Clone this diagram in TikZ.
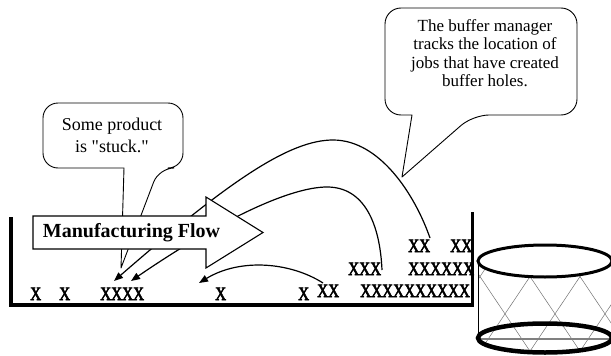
\documentclass[tikz,border=0pt]{standalone}
\usepackage{fontspec}
\setmainfont{Liberation Serif}
\newfontfamily\jobfont[FakeStretch=0.8,FakeBold=3]{Liberation Serif}
\newcommand\straightquote{{\XeTeXglyph\XeTeXcharglyph"22\relax}}
\usetikzlibrary{arrows.meta}
\begin{document}
\begin{tikzpicture}[x=1pt,y=-1pt,
  callout/.style={draw=black,line width=0.9pt,fill=white,line join=round},
  job/.style={font=\jobfont\fontsize{19}{19}\selectfont,inner sep=0pt,anchor=base west},
  trace/.style={line width=1.2pt,-{Triangle[length=9pt,width=7pt]}},
  wall/.style={line width=3.5pt,line join=miter},
  flowbox/.style={draw=black,line width=1.1pt,fill=white,line join=miter},
  lattice/.style={draw=black!55,line width=0.5pt},
  rim/.style={draw=black,line width=3pt},
]
\useasboundingbox (0,0) rectangle (611,356);

% speech bubbles
\draw[callout,rounded corners=15pt] (124,168) -- (43,168) -- (43,103) -- (183,103)
  -- (183,168) -- (159,168) [sharp corners] -- (121,268) -- cycle;
\node[align=center,inner sep=0pt,font=\fontsize{18}{22}\selectfont] (stuck) at (112,135)
  {Some product\\is \straightquote stuck.\straightquote};

\draw[callout,rounded corners=16pt] (412,115) -- (385,115) -- (385,8) -- (577,8)
  -- (577,115) -- (473,115) [sharp corners] -- (402,177) -- cycle;
\node[align=center,inner sep=0pt,font=\fontsize{17}{18.4}\selectfont] (manager) at (485,53)
  {The buffer manager\\tracks the location of\\jobs that have created\\buffer holes.};

% end points of the job traces
\coordinate (a0) at (430,238);
\coordinate (a1) at (114,281);
\coordinate (b0) at (382,270);
\coordinate (b1) at (131,281);
\coordinate (c0) at (323,283);
\coordinate (c1) at (199,283);

\draw[trace] (a0) .. controls (415,195) and (380,140) .. (333,140)
  .. controls (290,140) and (230,180) .. (a1);
\draw[trace] (b0) .. controls (380,225) and (365,187) .. (327,187)
  .. controls (290,187) and (220,220) .. (b1);
\draw[trace] (c0) .. controls (290,262) and (240,258) .. (c1);

% manufacturing flow arrow
\draw[flowbox] (33,216) -- (206,216) -- (206,197) -- (263,232.5) -- (206,268)
  -- (206,249) -- (33,249) -- cycle;
\node[inner sep=0pt,font=\bfseries\fontsize{20}{20}\selectfont] (flow) at (131.5,232.5)
  {Manufacturing Flow};

% jobs in the buffer
\node[job] (j1) at (30,300) {X};
\node[job] (j2) at (59,300) {X};
\node[job] (j3) at (100,300) {XXXX};
\node[job] (j4) at (215,300) {X};
\node[job] (j5) at (298,300) {X};
\node[job] (j6) at (317,297) {XX};
\node[job] (j7) at (360,297) {XXXXXXXXXX};
\node[job] (j8) at (348,275) {XXX};
\node[job] (j9) at (408,275) {XXXXXX};
\node[job] (j10) at (408,252) {XX};
\node[job] (j11) at (450,252) {XX};

% buffer walls
\draw[wall] (11,217) -- (11,305) -- (472.5,305) -- (472.5,212);

% wire basket
\begin{scope}
  \clip (478,261) -- plot[domain=180:0,samples=40] ({545+67*cos(\x)},{338+15*sin(\x)})
    -- (612,261) -- cycle;
  \foreach \v in {380,430,...,680} {
    \draw[lattice] ({\v-17.8},250) -- ({\v+55.9},360);
    \draw[lattice] ({\v+17.8},250) -- ({\v-55.9},360);
  }
\end{scope}
\draw[black,line width=0.9pt] (478,261) -- (478,338);
\draw[black!50,line width=1.3pt] (478,339) -- (612,339);
\draw[rim,fill=white] (545,261) ellipse [x radius=67,y radius=16];
\draw[rim,line width=4.5pt] (545,338) ellipse [x radius=67,y radius=14.5];
\end{tikzpicture}
\end{document}
